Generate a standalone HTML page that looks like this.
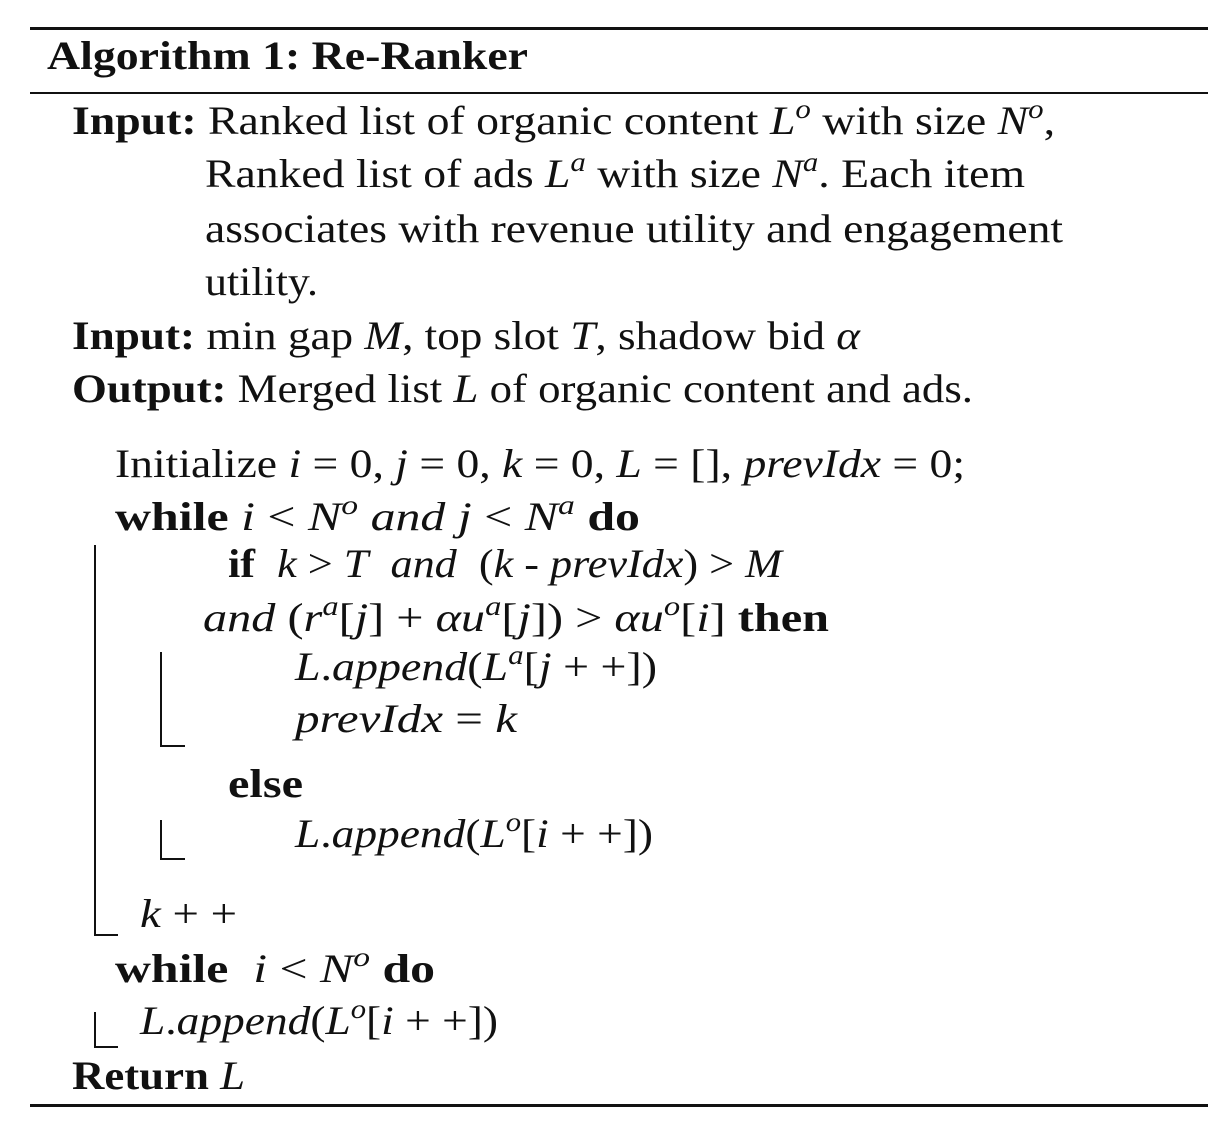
<!DOCTYPE html>
<html><head><meta charset="utf-8">
<style>
html,body{margin:0;padding:0;background:#fff;}
body{width:1228px;height:1136px;position:relative;overflow:hidden;font-family:"Liberation Serif",serif;color:#111;}
.l{position:absolute;white-space:nowrap;font-size:40px;line-height:40px;transform-origin:0 0;}
.r{position:absolute;background:#111;}
b{font-weight:bold;}
i{font-style:italic;}
sup{font-size:27px;line-height:0;vertical-align:16px;font-style:italic;}
</style></head><body>
<div class="r" style="left:30px;top:27px;width:1178px;height:3px"></div>
<div class="l" data-end="528" style="left:47px;top:36px"><b>Algorithm 1: Re-Ranker</b></div>
<div class="r" style="left:30px;top:92px;width:1178px;height:2px"></div>

<div class="l" data-end="1055" style="left:72px;top:101px"><b>Input:</b> Ranked list of organic content <i>L</i><sup>o</sup> with size <i>N</i><sup>o</sup>,</div>
<div class="l" data-end="1025" style="left:205px;top:154px">Ranked list of ads <i>L</i><sup>a</sup> with size <i>N</i><sup>a</sup>. Each item</div>
<div class="l" data-end="1063" style="left:205px;top:209px">associates with revenue utility and engagement</div>
<div class="l" data-end="318" style="left:205px;top:262px">utility.</div>
<div class="l" data-end="860" style="left:72px;top:316px"><b>Input:</b> min gap <i>M</i>, top slot <i>T</i>, shadow bid <i>α</i></div>
<div class="l" data-end="973" style="left:72px;top:369px"><b>Output:</b> Merged list <i>L</i> of organic content and ads.</div>

<div class="l" data-end="965" style="left:115px;top:444px">Initialize <i>i</i> = 0, <i>j</i> = 0, <i>k</i> = 0, <i>L</i> = [], <i>prevIdx</i> = 0;</div>
<div class="l" data-end="640" style="left:115px;top:497px"><b>while</b> <i>i</i> &lt; <i>N</i><sup>o</sup> <i>and j</i> &lt; <i>N</i><sup>a</sup> <b>do</b></div>
<div class="l" data-end="782" style="left:228px;top:544px"><b>if</b>&nbsp; <i>k</i> &gt; <i>T</i>&nbsp; <i>and</i>&nbsp; (<i>k - prevIdx</i>) &gt; <i>M</i></div>
<div class="l" data-end="829" style="left:203px;top:598px"><i>and</i> (<i>r</i><sup>a</sup>[<i>j</i>] + <i>αu</i><sup>a</sup>[<i>j</i>]) &gt; <i>αu</i><sup>o</sup>[<i>i</i>] <b>then</b></div>
<div class="l" data-end="657" style="left:295px;top:647px"><i>L</i>.<i>append</i>(<i>L</i><sup>a</sup>[<i>j</i> + +])</div>
<div class="l" data-end="517" style="left:295px;top:699px"><i>prevIdx</i> = <i>k</i></div>
<div class="l" data-end="303" style="left:228px;top:764px"><b>else</b></div>
<div class="l" data-end="653" style="left:295px;top:814px"><i>L</i>.<i>append</i>(<i>L</i><sup>o</sup>[<i>i</i> + +])</div>
<div class="l" data-end="237" style="left:140px;top:894px"><i>k</i> + +</div>
<div class="l" data-end="435" style="left:115px;top:949px"><b>while</b>&nbsp; <i>i</i> &lt; <i>N</i><sup>o</sup> <b>do</b></div>
<div class="l" data-end="498" style="left:140px;top:1001px"><i>L</i>.<i>append</i>(<i>L</i><sup>o</sup>[<i>i</i> + +])</div>
<div class="l" data-end="245" style="left:72px;top:1056px"><b>Return</b> <i>L</i></div>

<div class="r" style="left:94px;top:545px;width:2px;height:391px"></div>
<div class="r" style="left:94px;top:934px;width:24px;height:2px"></div>
<div class="r" style="left:160px;top:652px;width:2px;height:95px"></div>
<div class="r" style="left:160px;top:745px;width:25px;height:2px"></div>
<div class="r" style="left:160px;top:820px;width:2px;height:40px"></div>
<div class="r" style="left:160px;top:858px;width:25px;height:2px"></div>
<div class="r" style="left:94px;top:1012px;width:2px;height:36px"></div>
<div class="r" style="left:94px;top:1046px;width:24px;height:2px"></div>

<div class="r" style="left:30px;top:1104px;width:1178px;height:3px"></div>
<script>
document.querySelectorAll('.l').forEach(function(el){
  var end=parseFloat(el.getAttribute('data-end'));
  var left=parseFloat(el.style.left);
  var w=el.getBoundingClientRect().width;
  if(w>0){el.style.transform='scaleX('+((end-left)/w)+')';}
});
</script>
</body></html>
